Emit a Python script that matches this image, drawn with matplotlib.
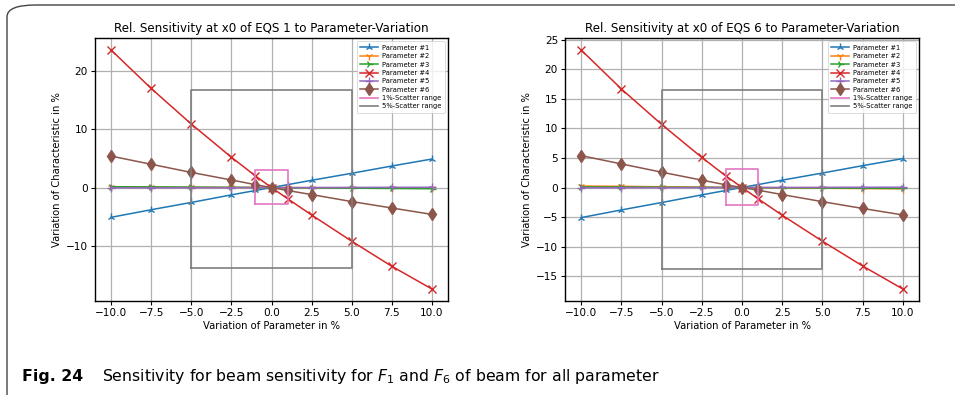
import numpy as np
import matplotlib
matplotlib.use("Agg")
import matplotlib.pyplot as plt
from matplotlib.patches import FancyBboxPatch

# Variation der Parameter (x-Werte)
variacao = [-10.0, -7.5, -5.0, -2.5, -1.0, 0.0, 1.0, 2.5, 5.0, 7.5, 10.0]

# EQS 1
eqs1_p1 = [-5.1, -3.8, -2.55, -1.25, -0.5, 0.0, 0.5, 1.25, 2.45, 3.7, 4.9]
eqs1_p2 = [0.05, 0.05, 0.04, 0.02, 0.01, 0.0, -0.01, -0.02, -0.04, -0.05, -0.06]
eqs1_p3 = [0.15, 0.12, 0.08, 0.04, 0.02, 0.0, -0.02, -0.05, -0.1, -0.15, -0.2]
eqs1_p4 = [23.6, 17.0, 10.9, 5.2, 2.0, 0.0, -1.9, -4.7, -9.2, -13.5, -17.4]
eqs1_p5 = [-0.05, -0.04, -0.03, -0.01, 0.0, 0.0, 0.0, 0.01, 0.03, 0.04, 0.05]
eqs1_p6 = [5.4, 4.0, 2.6, 1.3, 0.5, 0.0, -0.5, -1.2, -2.4, -3.5, -4.6]
eqs1_box1 = (-2.9, 3.1)
eqs1_box5 = (-13.75, 16.75)

# EQS 6
eqs6_p1 = [-5.1, -3.8, -2.55, -1.25, -0.5, 0.0, 0.5, 1.25, 2.45, 3.7, 4.9]
eqs6_p2 = [0.25, 0.2, 0.12, 0.06, 0.02, 0.0, -0.03, -0.06, -0.12, -0.17, -0.22]
eqs6_p3 = [0.1, 0.08, 0.05, 0.03, 0.01, 0.0, -0.01, -0.04, -0.08, -0.12, -0.15]
eqs6_p4 = [23.3, 16.7, 10.7, 5.1, 1.95, 0.0, -1.9, -4.7, -9.1, -13.3, -17.2]
eqs6_p5 = [-0.05, -0.04, -0.03, -0.01, 0.0, 0.0, 0.0, 0.01, 0.03, 0.04, 0.05]
eqs6_p6 = [5.4, 4.0, 2.6, 1.25, 0.45, 0.0, -0.45, -1.2, -2.4, -3.55, -4.65]
eqs6_box1 = (-2.9, 3.1)
eqs6_box5 = (-13.75, 16.6)

nomes = ["Parameter #1", "Parameter #2", "Parameter #3",
         "Parameter #4", "Parameter #5", "Parameter #6"]
marcadores = ["2", "1", "4", "x", "+", "d"]
cores = ["#1f77b4", "#ff7f0e", "#2ca02c", "#d62728", "#9467bd", "#8c564b"]


def desenhar(ax, series, box1, box5, titulo):
    for serie, nome, m, c in zip(series, nomes, marcadores, cores):
        ax.plot(variacao, serie, marker=m, color=c, label=nome,
                lw=1.1, ms=5.5 if m != "d" else 6, mew=1.0)
    ax.plot([-1, 1, 1, -1, -1], [box1[0], box1[0], box1[1], box1[1], box1[0]],
            color="#e377c2", lw=1.2, label="1%-Scatter range")
    ax.plot([-5, 5, 5, -5, -5], [box5[0], box5[0], box5[1], box5[1], box5[0]],
            color="#7f7f7f", lw=1.2, label="5%-Scatter range")
    ax.grid(True, color="#b0b0b0", lw=0.9)
    ax.set_axisbelow(True)
    ax.set_xticks([-10, -7.5, -5, -2.5, 0, 2.5, 5, 7.5, 10])
    ax.set_xticklabels(["−10.0", "−7.5", "−5.0", "−2.5", "0.0", "2.5", "5.0", "7.5", "10.0"])
    ax.tick_params(labelsize=7.6, length=3, width=0.8, pad=2)
    ax.set_title(titulo, fontsize=8.6, pad=4)
    ax.set_xlabel("Variation of Parameter in %", fontsize=7.2, labelpad=2)
    ax.set_ylabel("Variation of Characteristic in %", fontsize=7.2, labelpad=3)
    leg = ax.legend(loc="upper right", fontsize=4.9, handlelength=2.6,
                    labelspacing=0.35, borderpad=0.5, handletextpad=0.6,
                    fancybox=True, framealpha=0.8)
    leg.get_frame().set_linewidth(0.6)
    for s in ax.spines.values():
        s.set_linewidth(1.0)


fig = plt.figure(figsize=(9.55, 3.95), dpi=100)
W, H = 955, 395

ax1 = fig.add_axes([95 / W, 1 - 301 / H, (448 - 95) / W, (301 - 38) / H])
ax2 = fig.add_axes([565 / W, 1 - 301 / H, (919 - 565) / W, (301 - 38) / H])

desenhar(ax1, [eqs1_p1, eqs1_p2, eqs1_p3, eqs1_p4, eqs1_p5, eqs1_p6],
         eqs1_box1, eqs1_box5, "Rel. Sensitivity at x0 of EQS 1 to Parameter-Variation")
desenhar(ax2, [eqs6_p1, eqs6_p2, eqs6_p3, eqs6_p4, eqs6_p5, eqs6_p6],
         eqs6_box1, eqs6_box5, "Rel. Sensitivity at x0 of EQS 6 to Parameter-Variation")

# moldura da figura (caixa arredondada)
moldura = FancyBboxPatch((7 / W, -0.2), 1.2, 1 - 5 / H + 0.2,
                         boxstyle="round,pad=0,rounding_size=0.03",
                         transform=fig.transFigure, fill=False,
                         edgecolor="#444444", lw=1.0, clip_on=False)
fig.patches.append(moldura)

# legenda da figura
fig.text(22 / W, 1 - 377 / H, "Fig. 24", fontsize=11.3, fontweight="bold",
         va="center", ha="left")
fig.text(102 / W, 1 - 377 / H,
         "Sensitivity for beam sensitivity for $F_1$ and $F_6$ of beam for all parameter",
         fontsize=11.3, va="center", ha="left")

fig.savefig("out.png", dpi=100)
